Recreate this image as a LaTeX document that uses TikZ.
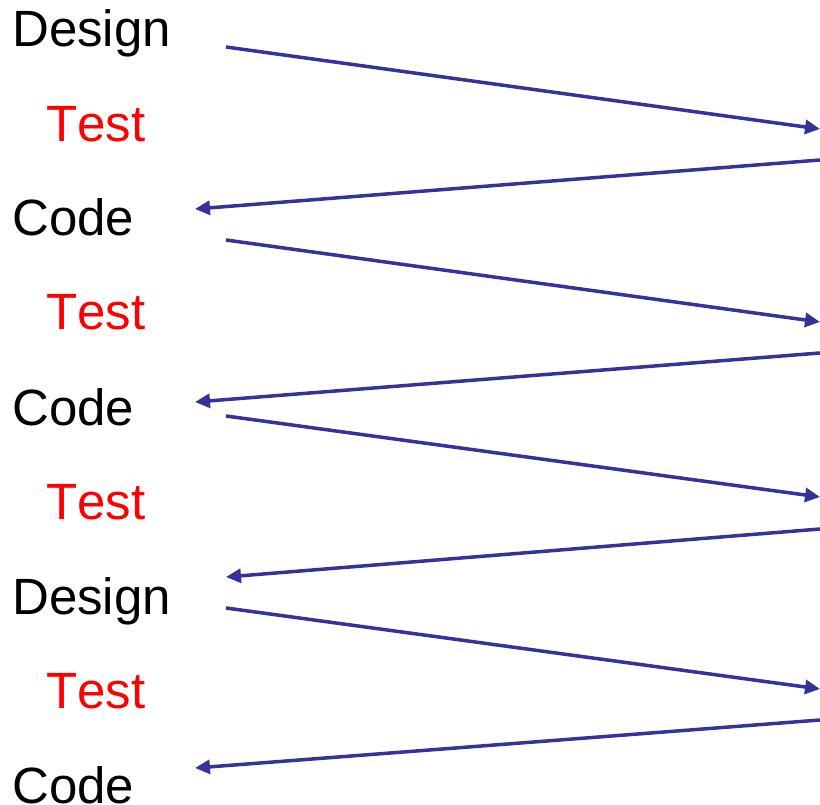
\documentclass[tikz,border=0pt]{standalone}
\usepackage{fontspec}
\setmainfont[Kerning=Off]{Liberation Sans}
\usetikzlibrary{arrows.meta}
\definecolor{arrowblue}{RGB}{51,51,153}
\definecolor{testred}{RGB}{255,0,0}
\begin{document}
\begin{tikzpicture}[x=1pt,y=-1pt,
  lbl/.style={anchor=base west,inner sep=0pt,font=\fontsize{51}{60}\selectfont},
  phase/.style={lbl,text=black},
  testlbl/.style={lbl,text=testred},
  flow/.style={draw=arrowblue,line width=3.5pt,-{Triangle[length=15pt,width=14pt]}}]
\useasboundingbox (0,0) rectangle (820,805);
\node[phase] (d1) at (12,47) {Design};
\node[testlbl] (t1) at (46,142) {Test};
\node[phase] (c1) at (12,236) {Code};
\node[testlbl] (t2) at (46,330) {Test};
\node[phase] (c2) at (12,425) {Code};
\node[testlbl] (t3) at (46,519) {Test};
\node[phase] (d2) at (12,614) {Design};
\node[testlbl] (t4) at (46,708) {Test};
\node[phase] (c3) at (12,803) {Code};
% connector end points
\coordinate (a1s) at (226,47);  \coordinate (a1e) at (820,129);
\coordinate (a2s) at (820,160); \coordinate (a2e) at (195,209);
\coordinate (a3s) at (226,240); \coordinate (a3e) at (820,322);
\coordinate (a4s) at (820,353); \coordinate (a4e) at (195,402);
\coordinate (a5s) at (226,416); \coordinate (a5e) at (820,497);
\coordinate (a6s) at (820,529); \coordinate (a6e) at (226,577);
\coordinate (a7s) at (226,608); \coordinate (a7e) at (820,689);
\coordinate (a8s) at (820,720); \coordinate (a8e) at (195,768);
\draw[flow] (a1s) -- (a1e);
\draw[flow] (a2s) -- (a2e);
\draw[flow] (a3s) -- (a3e);
\draw[flow] (a4s) -- (a4e);
\draw[flow] (a5s) -- (a5e);
\draw[flow] (a6s) -- (a6e);
\draw[flow] (a7s) -- (a7e);
\draw[flow] (a8s) -- (a8e);
\end{tikzpicture}
\end{document}
